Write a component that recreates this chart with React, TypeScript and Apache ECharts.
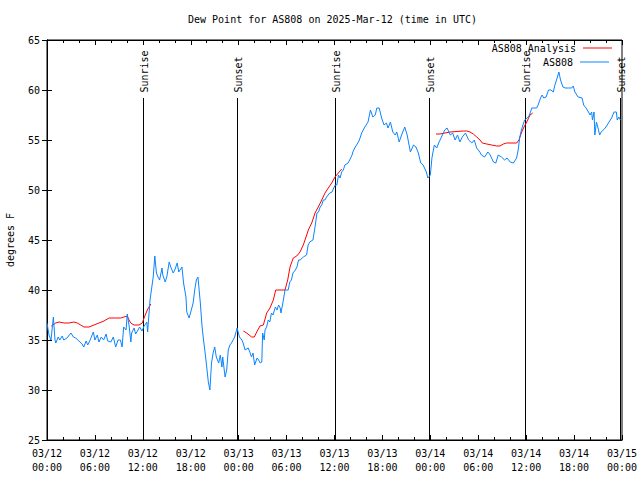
import React, { useEffect, useRef } from "react";
import * as echarts from "echarts";

const FONT = "DejaVu Sans Mono";

const titleText = "Dew Point for AS808 on 2025-Mar-12 (time in UTC)";
const yAxisName = "degrees F";
const seriesNames = ["AS808 Analysis", "AS808"];

const xTickLabels = [
  "03/12\n00:00", "03/12\n06:00", "03/12\n12:00", "03/12\n18:00",
  "03/13\n00:00", "03/13\n06:00", "03/13\n12:00", "03/13\n18:00",
  "03/14\n00:00", "03/14\n06:00", "03/14\n12:00", "03/14\n18:00",
  "03/15\n00:00",
];

// hours since 03/12 00:00 UTC
const sunHours = [12.0, 23.78, 36.0, 47.8, 59.9, 71.7];
const sunLabels = ["Sunrise", "Sunset", "Sunrise", "Sunset", "Sunrise", "Sunset"];

const obsHours = [
  0.0, 0.25, 0.5, 0.8, 1.0, 1.1, 1.4, 1.6, 1.9, 2.1, 2.5, 3.0, 3.3, 3.6, 4.0, 4.4, 4.6, 4.9, 5.1, 5.4,
  5.8, 6.0, 6.3, 6.5, 6.8, 7.1, 7.4, 7.6, 8.0, 8.3, 8.6, 8.9, 9.2, 9.4, 9.6, 9.9, 10.05, 10.3, 10.5, 10.6,
  10.9, 11.1, 11.4, 11.6, 11.9, 12.1, 12.5, 12.6, 12.9, 13.3, 13.5, 13.7, 13.9, 14.1, 14.4, 14.5, 14.8, 15.0, 15.3, 15.5,
  15.8, 16.0, 16.3, 16.5, 16.9, 17.1, 17.4, 17.5, 17.8, 18.0, 18.3, 18.5, 18.7, 18.9, 19.2, 19.4, 19.6, 19.8, 20.0, 20.2,
  20.4, 20.6, 20.8, 21.0, 21.2, 21.5, 21.7, 21.9, 22.0, 22.3, 22.5, 22.7, 22.9, 23.1, 23.3, 23.5, 23.8, 24.1, 24.4, 24.6,
  24.8, 25.2, 25.4, 25.6, 25.8, 26.0, 26.3, 26.5, 26.7, 26.9, 27.0, 27.2, 27.3, 27.5, 27.7, 27.9, 28.1, 28.3, 28.6, 28.8,
  29.0, 29.2, 29.3, 29.6, 29.8, 30.2, 30.4, 30.6, 30.8, 31.1, 31.3, 31.5, 31.7, 32.1, 32.5, 32.7, 32.9, 33.3, 33.6, 33.8,
  34.0, 34.2, 34.4, 34.6, 34.8, 35.0, 35.2, 35.4, 35.7, 35.9, 36.1, 36.3, 36.5, 36.7, 36.9, 37.1, 37.3, 37.7, 37.9, 38.2,
  38.3, 38.6, 39.0, 39.2, 39.4, 39.8, 40.2, 40.5, 40.8, 41.1, 41.3, 41.6, 41.9, 42.2, 42.5, 42.7, 43.0, 43.3, 43.6, 43.8,
  44.1, 44.4, 44.8, 45.1, 45.5, 45.9, 46.2, 46.5, 46.8, 47.1, 47.5, 47.7, 48.0, 48.2, 48.5, 48.8, 49.1, 49.4, 49.8, 50.1,
  50.5, 50.8, 51.1, 51.4, 51.7, 52.0, 52.4, 52.8, 53.2, 53.5, 53.8, 54.2, 54.4, 54.8, 55.2, 55.5, 55.9, 56.2, 56.5, 56.9,
  57.3, 57.6, 58.0, 58.4, 58.8, 59.0, 59.2, 59.4, 59.8, 60.1, 60.3, 60.5, 60.7, 61.3, 61.5, 61.8, 62.0, 62.2, 62.5, 62.8,
  63.1, 63.4, 63.6, 63.8, 64.1, 64.3, 64.6, 64.9, 65.3, 65.7, 65.9, 66.1, 66.5, 67.0, 67.2, 67.5, 67.8, 68.0, 68.2, 68.3,
  68.5, 68.6, 68.8, 69.0, 69.2, 69.4, 69.9, 70.3, 70.7, 71.0, 71.3, 71.4, 71.6, 71.8,
];
const obsValues = [
  36.7, 35.5, 35.0, 37.3, 35.0, 34.7, 35.3, 35.0, 35.4, 35.0, 35.2, 35.7, 35.3, 35.2, 34.9, 34.6, 34.3, 34.9, 34.5, 35.0,
  35.8, 35.0, 35.5, 34.8, 35.3, 35.0, 35.6, 34.9, 34.8, 35.3, 34.3, 35.0, 35.0, 34.3, 36.3, 36.0, 37.6, 36.3, 34.8, 35.7,
  36.2, 35.6, 36.0, 36.3, 35.9, 36.3, 36.8, 35.8, 39.0, 41.3, 43.4, 41.7, 41.3, 41.0, 42.2, 41.5, 40.8, 41.3, 42.8, 42.3,
  41.7, 42.0, 42.7, 41.8, 42.3, 40.7, 39.3, 37.8, 37.2, 37.8, 38.7, 40.0, 41.0, 41.3, 38.7, 36.5, 35.0, 33.7, 32.3, 30.8,
  30.0, 32.7, 33.7, 34.3, 33.3, 32.7, 33.5, 32.3, 33.3, 31.3, 32.0, 34.0, 34.5, 34.7, 35.0, 35.3, 36.2, 35.3, 35.0, 34.6,
  34.0, 34.2, 33.8, 33.3, 33.7, 32.5, 33.2, 33.0, 32.7, 32.8, 35.7, 35.0, 36.0, 36.3, 37.0, 36.8, 37.7, 37.5, 38.3, 38.0,
  38.5, 38.2, 37.7, 39.0, 40.0, 40.0, 40.8, 41.0, 41.7, 42.0, 42.3, 43.0, 43.0, 43.3, 43.5, 44.5, 44.8, 45.0, 46.5, 47.7,
  47.8, 48.3, 48.5, 49.0, 49.0, 49.3, 49.5, 49.7, 49.8, 50.2, 50.5, 50.5, 51.5, 51.2, 51.8, 52.0, 52.5, 52.7, 53.0, 53.5,
  53.8, 54.3, 54.8, 55.2, 55.7, 56.3, 56.8, 58.0, 57.3, 57.5, 58.2, 58.2, 57.2, 56.5, 56.7, 56.2, 56.8, 55.8, 55.5, 55.8,
  54.8, 55.5, 56.3, 55.5, 53.8, 54.5, 54.3, 53.7, 52.7, 52.5, 51.8, 51.2, 51.5, 53.2, 54.5, 54.2, 54.8, 55.3, 56.0, 56.2,
  55.5, 55.7, 55.0, 55.5, 54.8, 55.3, 55.7, 55.0, 54.7, 55.0, 54.2, 53.8, 53.5, 53.3, 53.8, 53.5, 52.8, 52.7, 53.5, 53.3,
  53.0, 53.2, 52.8, 52.7, 53.2, 54.0, 55.3, 56.0, 57.0, 57.2, 57.3, 57.7, 58.2, 58.2, 58.5, 59.2, 59.5, 59.2, 59.3, 60.0,
  60.0, 59.8, 60.5, 61.0, 61.8, 61.0, 60.3, 60.2, 60.2, 60.2, 60.4, 59.8, 59.3, 59.2, 58.5, 58.2, 57.8, 57.5, 57.8, 57.0,
  57.8, 55.5, 56.8, 56.2, 55.5, 55.8, 56.2, 56.7, 57.2, 57.8, 57.8, 57.0, 57.3, 57.0,
];

// null marks a gap in the analysis line
const analysisHours = [
  0.54, 1.09, 1.5, 2.13, 2.75, 3.38, 3.79, 4.22, 4.63, 5.26, 5.89, 6.51, 7.14, 7.76, 8.6, 9.23, 9.64, 10.05, 10.27, 10.48,
  10.9, 11.52, 11.93, 12.15, 12.56, 12.77, 13.0,
  18.0,
  24.58, 25.0, 25.63, 25.96, 26.26, 26.67, 27.09, 27.51, 27.92, 28.34, 28.64, 29.8, 30.14, 30.43, 30.84, 31.27, 31.68, 32.09,
  32.52, 32.72, 33.15, 33.56, 33.97, 34.4, 34.81, 35.22, 35.65, 36.06, 36.48, 36.9,
  42.0,
  48.71, 49.21, 49.84, 50.46, 52.13, 52.55, 52.97, 53.38, 53.81, 54.22, 54.51, 55.06, 55.69, 56.31, 56.72, 57.14, 57.56,
  58.81, 59.1, 59.44, 59.73, 60.07, 60.48, 60.82,
];
const analysisValues = [
  36.4, 36.7, 36.8, 36.7, 36.7, 36.8, 36.7, 36.5, 36.3, 36.3, 36.5, 36.7, 36.9, 37.2, 37.2, 37.2, 37.3, 37.4, 37.0, 36.7,
  36.5, 36.5, 36.7, 37.2, 38.0, 38.3, 38.6,
  null,
  35.9, 35.7, 35.3, 35.3, 35.8, 36.4, 36.5, 37.7, 38.2, 39.0, 40.0, 40.0, 41.0, 42.3, 43.2, 43.4, 43.8, 44.5,
  45.5, 46.0, 46.7, 47.7, 48.3, 49.0, 49.7, 50.2, 50.7, 51.3, 51.7, 52.1,
  null,
  55.6, 55.6, 55.7, 55.8, 55.9, 55.9, 55.8, 55.6, 55.3, 55.0, 54.7, 54.6, 54.5, 54.4, 54.4, 54.6, 54.7,
  54.7, 55.0, 55.8, 56.3, 56.8, 57.5, 57.7,
];

const Y_MIN = 25;
const Y_MAX = 65;
const SUN_LINE_TOP = 59.2;
const SUN_LABEL_BASE = 59.75;

export default function App() {
  const ref = useRef<HTMLDivElement>(null);

  useEffect(() => {
    if (!ref.current) return;
    const chart = echarts.init(ref.current, null, { renderer: "svg" });

    const axisCommon = {
      type: "value" as const,
      axisLine: { show: true, lineStyle: { color: "#000", width: 1 } },
      splitLine: { show: false },
    };

    const legendCommon = {
      right: 28,
      orient: "vertical",
      align: "right",
      icon: "rect",
      itemWidth: 29,
      itemHeight: 1,
      padding: 0,
      textStyle: { fontFamily: FONT, fontSize: 10, color: "#000", padding: [0, 2, 0, 0] },
    };

    const option: any = {
      animation: false,
      backgroundColor: "#fff",
      title: {
        text: titleText,
        left: 188,
        top: 14,
        padding: 0,
        textStyle: { fontFamily: FONT, fontSize: 10, fontWeight: "normal", color: "#000" },
      },
      legend: [
        { ...legendCommon, data: [seriesNames[0]], top: 43 },
        { ...legendCommon, data: [seriesNames[1]], right: 31, top: 57 },
      ],
      grid: {
        left: 47,
        right: 18,
        top: 40,
        bottom: 40,
        outerBoundsMode: "none",
        containLabel: false,
        show: true,
        borderColor: "#000",
        borderWidth: 1,
        backgroundColor: "transparent",
      },
      xAxis: [
        {
          ...axisCommon,
          position: "bottom",
          min: 0,
          max: 72,
          interval: 6,
          axisTick: { show: true, inside: true, length: 5, lineStyle: { color: "#000" } },
          minorTick: { show: true, splitNumber: 3, length: 3, lineStyle: { color: "#000" } },
          axisLabel: {
            show: true,
            showMaxLabel: true,
            showMinLabel: true,
            margin: 6,
            lineHeight: 14,
            fontFamily: FONT,
            fontSize: 10,
            color: "#000",
            formatter: (v: number) => xTickLabels[Math.round(v / 6)] ?? "",
          },
        },
        {
          ...axisCommon,
          position: "top",
          min: 0,
          max: 72,
          interval: 6,
          axisTick: { show: true, inside: true, length: 5, lineStyle: { color: "#000" } },
          minorTick: { show: true, splitNumber: 3, length: 3, lineStyle: { color: "#000" } },
          axisLabel: { show: false },
        },
      ],
      yAxis: [
        {
          ...axisCommon,
          position: "left",
          min: Y_MIN,
          max: Y_MAX,
          interval: 5,
          name: yAxisName,
          nameLocation: "middle",
          nameRotate: 90,
          nameGap: 32,
          nameTextStyle: { fontFamily: FONT, fontSize: 10, color: "#000" },
          axisTick: { show: true, inside: true, length: 5, lineStyle: { color: "#000" } },
          axisLabel: { show: true, margin: 7, fontFamily: FONT, fontSize: 10, color: "#000" },
        },
        {
          ...axisCommon,
          position: "right",
          min: Y_MIN,
          max: Y_MAX,
          interval: 5,
          axisTick: { show: true, inside: true, length: 5, lineStyle: { color: "#000" } },
          axisLabel: { show: false },
        },
      ],
      series: [
        {
          type: "custom",
          name: "sun",
          xAxisIndex: 0,
          yAxisIndex: 0,
          silent: true,
          data: sunHours.map((h) => [h]),
          renderItem: (params: any, api: any) => {
            const h = api.value(0);
            const b = api.coord([h, Y_MIN]);
            const t = api.coord([h, SUN_LINE_TOP]);
            const l = api.coord([h, SUN_LABEL_BASE]);
            const x = Math.round(b[0]) + 0.5;
            return {
              type: "group",
              children: [
                {
                  type: "line",
                  shape: { x1: x, y1: b[1], x2: x, y2: t[1] },
                  style: { stroke: "#000", lineWidth: 1 },
                },
                {
                  type: "text",
                  x: x + 1,
                  y: l[1],
                  rotation: Math.PI / 2,
                  style: {
                    text: sunLabels[params.dataIndex],
                    fill: "#000",
                    font: `10px "${FONT}"`,
                    align: "left",
                    verticalAlign: "middle",
                  },
                },
              ],
            };
          },
        },
        {
          type: "line",
          name: seriesNames[0],
          xAxisIndex: 0,
          yAxisIndex: 0,
          data: analysisHours.map((h, i) => [h, analysisValues[i] === null ? "-" : analysisValues[i]]),
          showSymbol: false,
          connectNulls: false,
          color: "#ff0000",
          lineStyle: { color: "#ff0000", width: 1 },
        },
        {
          type: "line",
          name: seriesNames[1],
          xAxisIndex: 0,
          yAxisIndex: 0,
          data: obsHours.map((h, i) => [h, obsValues[i]]),
          showSymbol: false,
          color: "#0a84ff",
          lineStyle: { color: "#0a84ff", width: 1 },
        },
      ],
    };

    chart.setOption(option);
    return () => chart.dispose();
  }, []);

  return (
    <div
      ref={ref}
      style={{ position: "fixed", left: 0, top: 0, width: 640, height: 480, background: "#fff" }}
    />
  );
}
